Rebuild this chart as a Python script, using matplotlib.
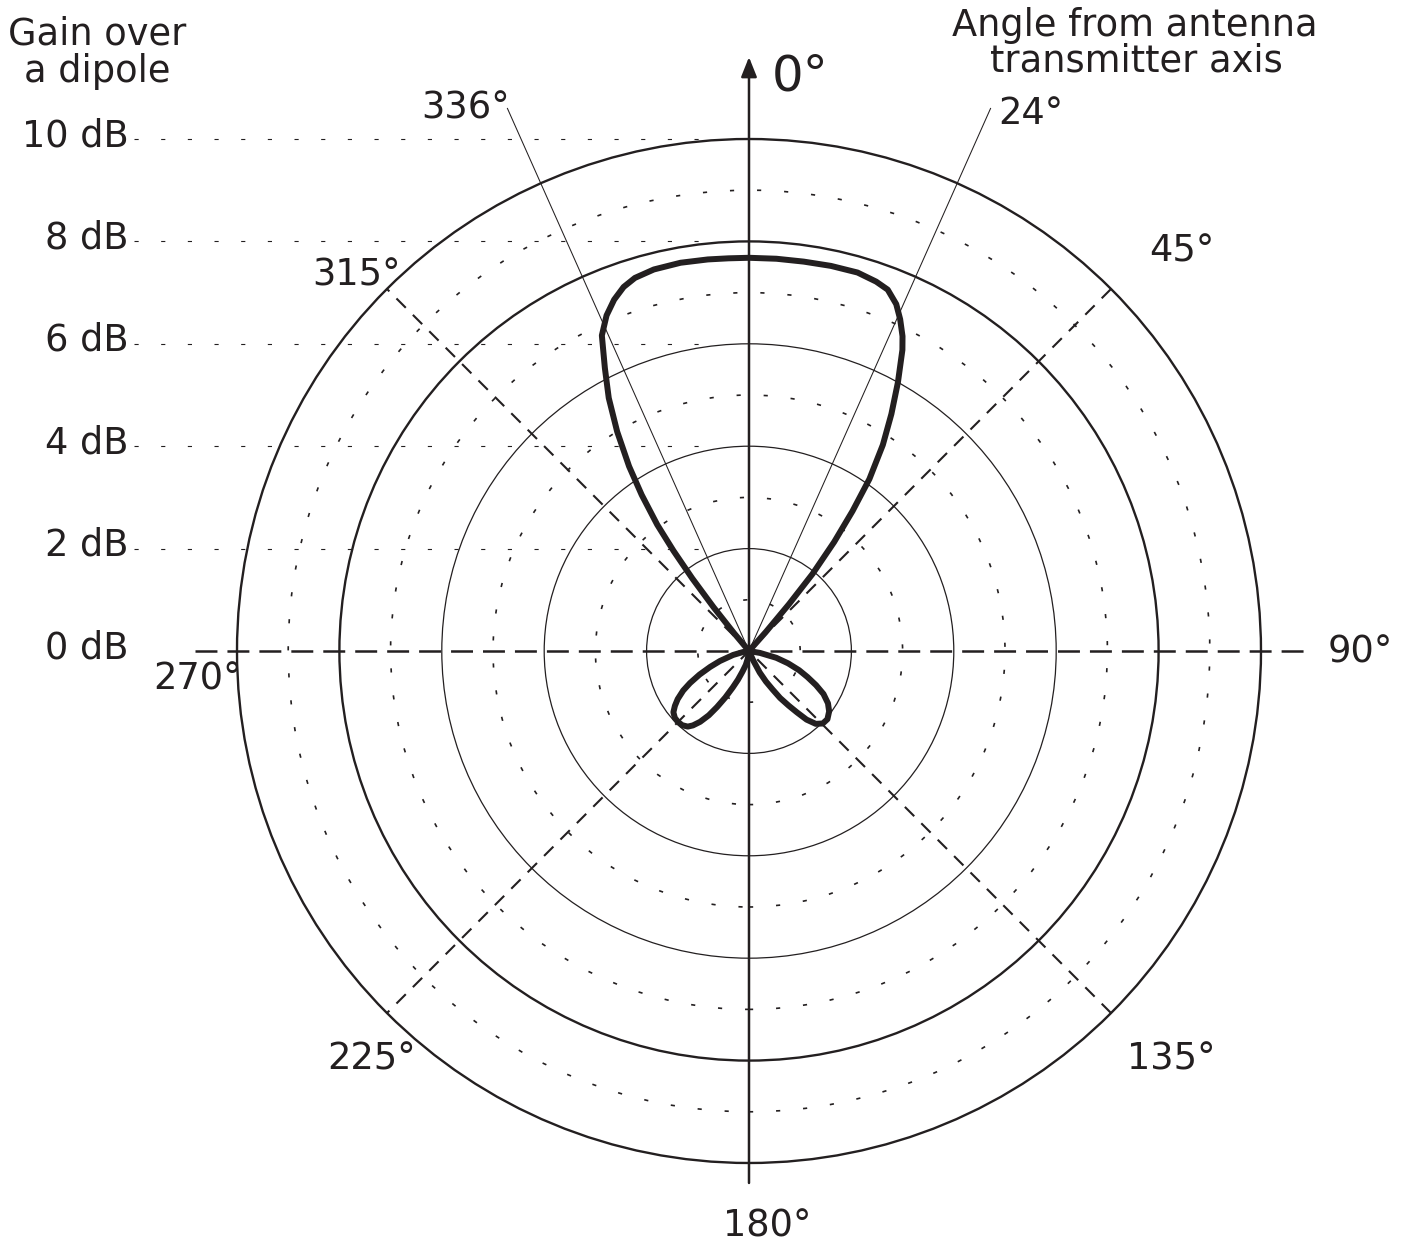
import numpy as np
import matplotlib.pyplot as plt
from matplotlib.patches import Circle

plt.rcParams['font.family'] = 'DejaVu Sans'
plt.rcParams['lines.scale_dashes'] = False

INK = '#231f20'

# radiation pattern: angle clockwise from the transmitter axis (deg), gain over a dipole (dB)
main_angle = [319, 320, 321, 322, 323, 324, 325.5, 327, 329, 331, 333, 335, 337, 339, 341, 343, 346,
              350, 354, 357, 0, 4, 8, 12, 16, 19, 21, 23, 24.5, 26, 27, 29, 31, 33, 35, 36.5, 38,
              39.5, 40.5, 41.5, 42]
main_gain = [0.0, 0.45, 1.1, 1.8, 2.45, 3.05, 3.7, 4.3, 5.0, 5.65, 6.2, 6.8, 7.12, 7.35, 7.52, 7.62, 7.68,
             7.70, 7.69, 7.68, 7.68, 7.68, 7.68, 7.69, 7.69, 7.63, 7.56, 7.36, 7.12, 6.84, 6.6, 6.0, 5.4,
             4.8, 4.1, 3.4, 2.7, 1.95, 1.2, 0.5, 0.0]

right_back_angle = [95, 100, 104, 107.5, 111, 114, 117, 120, 123.5, 127, 131, 134.5, 137.5, 140, 142,
                    144, 146.5, 148.5, 151, 153.5, 156, 158]
right_back_gain = [0.0, 0.22, 0.55, 0.8, 1.05, 1.25, 1.47, 1.68, 1.85, 1.96, 2.03, 2.02, 1.93, 1.75, 1.52,
                   1.32, 1.1, 0.88, 0.68, 0.47, 0.2, 0.0]

left_back_angle = [186, 189, 193, 197.5, 201, 204, 207, 209.7, 212, 214.6, 217, 219, 222, 225, 228, 231,
                   233.5, 236, 239, 241.5, 244.5, 247.7, 251, 256, 260, 263]
left_back_gain = [0.0, 0.15, 0.28, 0.42, 0.6, 0.78, 1.02, 1.26, 1.48, 1.68, 1.82, 1.9, 1.95, 1.96, 1.95,
                  1.9, 1.8, 1.68, 1.5, 1.31, 1.07, 0.82, 0.6, 0.32, 0.12, 0.0]

gain_levels = [0, 2, 4, 6, 8, 10]
gain_labels = ['0 dB', '2 dB', '4 dB', '6 dB', '8 dB', '10 dB']
minor_levels = [1, 3, 5, 7, 9]
angle_labels = ['45°', '90°', '135°', '180°', '225°', '270°', '315°']
marked_angles = [336, 24]


def to_xy(angle, gain):
    a = np.radians(np.asarray(angle, dtype=float))
    g = np.asarray(gain, dtype=float)
    return g * np.sin(a), g * np.cos(a)


fig = plt.figure(figsize=(14.11, 12.49), dpi=100)
ax = fig.add_axes([0, 0, 1, 1])
ax.set_xlim(-14.629, 12.930)
ax.set_ylim(-11.680, 12.715)
ax.axis('off')

# gain rings
for lev in gain_levels[1:]:
    lw = 1.7 if lev >= 8 else 0.9
    ax.add_patch(Circle((0, 0), lev, fill=False, ec=INK, lw=lw))
for lev in minor_levels:
    ax.add_patch(Circle((0, 0), lev, fill=False, ec=INK, lw=1.2, ls=(0, (3, 16.5))))

# axes through the centre
ax.plot([-10.82, 10.86], [0, 0], color=INK, lw=1.8, ls=(0, (15.8, 7.2)))
for a in [45, 135]:
    x, y = to_xy([a, a + 180], [10, 10])
    ax.plot(x, y, color=INK, lw=1.5, ls=(0, (9.5, 7.2)))
ax.annotate('', xy=(0, 11.6), xytext=(0, -10.39),
            arrowprops=dict(arrowstyle='-|>,head_length=0.4,head_width=0.16', mutation_scale=30,
                            lw=1.8, color=INK, shrinkA=0, shrinkB=0))

# leader lines for the 336° / 24° marks
for a in marked_angles:
    x, y = to_xy([a, a], [0, 11.6])
    ax.plot(x, y, color=INK, lw=0.75)

# gain scale on the left
for lev, lab in zip(gain_levels, gain_labels):
    ax.text(-12.11, lev - 0.137, lab, ha='right', va='baseline', fontsize=26.5, color=INK)
    if lev > 0:
        ax.plot([-12.02, -0.9], [lev, lev], color=INK, lw=0.8, ls=(0, (3, 16.2)))

# radiation pattern
for ang, g in [(main_angle, main_gain), (right_back_angle, right_back_gain),
               (left_back_angle, left_back_gain)]:
    x, y = to_xy(ang, g)
    ax.plot(x, y, color=INK, lw=4.3, solid_joinstyle='round', solid_capstyle='round')

# angle labels
fs = 26.5
ax.text(0.45, 10.94, '0°', ha='left', va='baseline', fontsize=36, color=INK)
ax.text(4.86, 10.29, '24°', ha='left', va='baseline', fontsize=fs, color=INK)
ax.text(-4.67, 10.41, '336°', ha='right', va='baseline', fontsize=fs, color=INK)
label_pos = [(8.46, 7.60, 'center'), (11.31, -0.23, 'left'), (7.38, -8.18, 'left'),
             (-0.51, -11.43, 'left'), (-8.24, -8.18, 'left'), (-11.64, -0.76, 'left'),
             (-7.66, 7.13, 'center')]
for lab, (x, y, ha) in zip(angle_labels, label_pos):
    ax.text(x, y, lab, ha=ha, va='baseline', fontsize=fs, color=INK)

ax.text(-12.73, 11.84, 'Gain over', ha='center', va='baseline', fontsize=fs, color=INK)
ax.text(-12.73, 11.11, 'a dipole', ha='center', va='baseline', fontsize=fs, color=INK)
ax.text(7.54, 12.01, 'Angle from antenna', ha='center', va='baseline', fontsize=fs, color=INK)
ax.text(7.56, 11.31, 'transmitter axis', ha='center', va='baseline', fontsize=fs, color=INK)

fig.savefig('out.png', dpi=100, facecolor='white')
